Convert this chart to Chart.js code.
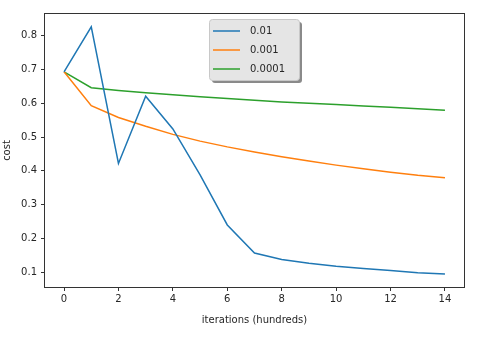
<!DOCTYPE html>
<html>
<head>
<meta charset="utf-8">
<script src="https://cdn.jsdelivr.net/npm/chart.js@4/dist/chart.umd.min.js"></script>
<style>
  html, body { margin: 0; padding: 0; background: #fff; }
  #wrap { width: 482px; height: 338px; }
</style>
</head>
<body>
<div id="wrap"><canvas id="cost-chart" width="482" height="338"></canvas></div>
<script>
// iterations (hundreds)
const iterations = [0, 1, 2, 3, 4, 5, 6, 7, 8, 9, 10, 11, 12, 13, 14];

// cost per learning rate
const learningRates = ['0.01', '0.001', '0.0001'];
const costLr01 = [0.693, 0.826, 0.422, 0.621, 0.524, 0.388, 0.240, 0.157, 0.138, 0.127, 0.118, 0.111, 0.105, 0.099, 0.095];
const costLr001 = [0.693, 0.593, 0.558, 0.532, 0.508, 0.488, 0.471, 0.456, 0.442, 0.429, 0.417, 0.406, 0.396, 0.387, 0.380];
const costLr0001 = [0.693, 0.646, 0.638, 0.631, 0.625, 0.619, 0.614, 0.609, 0.604, 0.600, 0.596, 0.592, 0.588, 0.584, 0.579];

const xTicks = [0, 2, 4, 6, 8, 10, 12, 14];
const yTicks = [0.1, 0.2, 0.3, 0.4, 0.5, 0.6, 0.7, 0.8];

const colors = ['#1f77b4', '#ff7f0e', '#2ca02c'];
const series = [costLr01, costLr001, costLr0001];

const FONT = '"DejaVu Sans", sans-serif';
const TEXT = '#262626';

// box around the plot area
const frame = {
    id: 'frame',
    afterDatasetsDraw(chart) {
        const { ctx, chartArea: a } = chart;
        ctx.save();
        ctx.strokeStyle = '#333';
        ctx.lineWidth = 1;
        ctx.strokeRect(Math.round(a.left) - 0.5, Math.round(a.top) - 0.5,
            Math.round(a.right - a.left) + 1, Math.round(a.bottom - a.top) + 1);
        ctx.restore();
    }
};

// shadowed legend box at upper centre
const boxLegend = {
    id: 'boxLegend',
    afterDraw(chart) {
        const { ctx } = chart;
        const x = 209, y = 19, w = 90, h = 61;
        ctx.save();
        ctx.fillStyle = '#8a8a8a';
        roundRect(ctx, x + 3, y + 3, w, h, 3);
        ctx.fill();
        ctx.fillStyle = '#e5e5e5';
        ctx.strokeStyle = '#c8c8c8';
        ctx.lineWidth = 1;
        roundRect(ctx, x + 0.5, y + 0.5, w, h, 3);
        ctx.fill();
        ctx.stroke();
        ctx.font = '10px ' + FONT;
        ctx.textBaseline = 'middle';
        chart.data.datasets.forEach((ds, i) => {
            const ly = y + 12 + i * 19;
            ctx.strokeStyle = ds.borderColor;
            ctx.lineWidth = 1.5;
            ctx.beginPath();
            ctx.moveTo(x + 4, ly);
            ctx.lineTo(x + 31, ly);
            ctx.stroke();
            ctx.fillStyle = TEXT;
            ctx.fillText(ds.label, x + 41, ly);
        });
        ctx.restore();
    }
};

function roundRect(ctx, x, y, w, h, r) {
    ctx.beginPath();
    ctx.moveTo(x + r, y);
    ctx.lineTo(x + w - r, y);
    ctx.quadraticCurveTo(x + w, y, x + w, y + r);
    ctx.lineTo(x + w, y + h - r);
    ctx.quadraticCurveTo(x + w, y + h, x + w - r, y + h);
    ctx.lineTo(x + r, y + h);
    ctx.quadraticCurveTo(x, y + h, x, y + h - r);
    ctx.lineTo(x, y + r);
    ctx.quadraticCurveTo(x, y, x + r, y);
    ctx.closePath();
}

new Chart(document.getElementById('cost-chart'), {
    type: 'line',
    data: {
        datasets: learningRates.map((lr, i) => ({
            label: lr,
            data: iterations.map((it, j) => ({ x: it, y: series[i][j] })),
            borderColor: colors[i],
            backgroundColor: colors[i],
            borderWidth: 1.5,
            pointRadius: 0,
            tension: 0,
            fill: false
        }))
    },
    options: {
        responsive: false,
        animation: false,
        layout: { padding: { top: 14, right: 18, left: 0, bottom: 0 } },
        plugins: { legend: { display: false }, tooltip: { enabled: false } },
        scales: {
            x: {
                type: 'linear',
                min: -0.7,
                max: 14.7,
                afterBuildTicks: s => { s.ticks = xTicks.map(v => ({ value: v })); },
                afterFit: s => { s.height = 51; },
                grid: { display: true, drawOnChartArea: false, drawTicks: true, tickLength: 4, color: '#333', tickWidth: 1 },
                border: { display: false },
                ticks: { color: TEXT, font: { family: FONT, size: 10 }, padding: 2, maxRotation: 0 },
                title: { display: true, text: 'iterations (hundreds)', color: TEXT, font: { family: FONT, size: 10 }, padding: { top: 0, bottom: 12 } }
            },
            y: {
                type: 'linear',
                min: 0.0565,
                max: 0.864,
                afterBuildTicks: s => { s.ticks = yTicks.map(v => ({ value: v })); },
                afterFit: s => { s.width = 45; },
                grid: { display: true, drawOnChartArea: false, drawTicks: true, tickLength: 4, color: '#333', tickWidth: 1 },
                border: { display: false },
                ticks: { color: TEXT, font: { family: FONT, size: 10 }, padding: 4, callback: v => v.toFixed(1) },
                title: { display: true, text: 'cost', color: TEXT, font: { family: FONT, size: 10 }, padding: { top: 1, bottom: 0 } }
            }
        }
    },
    plugins: [frame, boxLegend]
});
</script>
</body>
</html>
